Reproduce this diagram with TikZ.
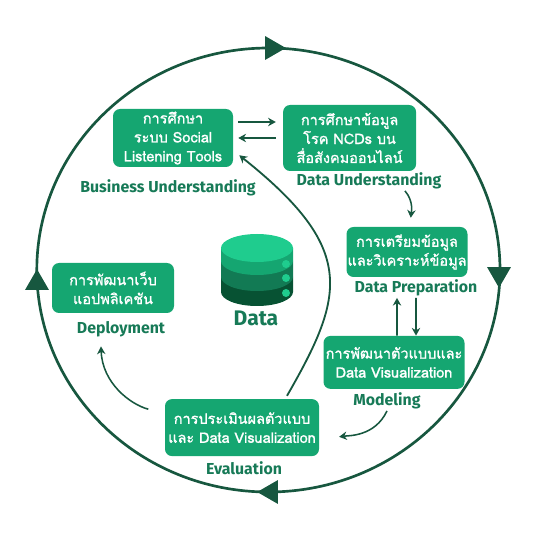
\documentclass[tikz,border=0pt]{standalone}
\usepackage{fontspec}
\setmainfont[Script=Thai]{Loma}
\newfontfamily\stepfont[Script=Thai,FakeBold=1.3]{Loma}
\newfontfamily\labelfont{Fira Sans}
\usetikzlibrary{arrows.meta,shapes.geometric}
\definecolor{boxgreen}{HTML}{15A671}
\definecolor{inkgreen}{HTML}{17573F}
\definecolor{labelgreen}{HTML}{177A57}
\definecolor{dbtop}{HTML}{1FCC8E}
\definecolor{dbmid}{HTML}{127A54}
\definecolor{dbbot}{HTML}{075233}
\begin{document}
\begin{tikzpicture}[
  font=\stepfont\fontsize{10.3}{13.5}\selectfont,
  >={Stealth[length=5.5pt,width=6pt]},
  stepbox/.style={draw=none, rounded corners=5pt, fill=boxgreen, text=white, align=center, inner sep=0pt},
  phase/.style={text=labelgreen, align=center, inner sep=1pt, font=\labelfont\fontsize{11.3}{12}\selectfont\bfseries},
  arr/.style={->, draw=inkgreen, line width=1.1pt},
  ringhead/.style={regular polygon, regular polygon sides=3, fill=inkgreen, inner sep=0pt, minimum size=0.69cm},
  ringline/.style={draw=inkgreen, line width=1.9pt}
]
\useasboundingbox (0,0) rectangle (13.5,13.5);
% ring
\node[ellipse, ringline, minimum width=11.58cm, minimum height=11.1cm, inner sep=0pt] (ring) at (6.71,6.75) {};
\node[ringhead, shape border rotate=-90] (headt) at (6.8,12.3) {};
\node[ringhead, shape border rotate=180] (headr) at (12.475,6.65) {};
\node[ringhead, shape border rotate=90] (headb) at (6.775,1.2) {};
\node[ringhead] (headl) at (0.925,6.425) {};
% steps
\node[stepbox, minimum width=3cm, minimum height=1.45cm] (study) at (4.325,10.05) {การศึกษา\\ระบบ Social\\Listening Tools};
\node[stepbox, minimum width=3.325cm, minimum height=1.65cm] (ncds) at (8.74,10.05) {การศึกษาข้อมูล\\โรค NCDs บน\\สื่อสังคมออนไลน์};
\node[stepbox, minimum width=3.025cm, minimum height=1.25cm] (prep) at (10.175,7.2) {การเตรียมข้อมูล\\และวิเคราะห์ข้อมูล};
\node[stepbox, minimum width=3.525cm, minimum height=1.325cm] (model) at (9.85,4.44) {การพัฒนาตัวแบบและ\\Data Visualization};
\node[stepbox, minimum width=3.85cm, minimum height=1.425cm] (eval) at (6.05,2.81) {การประเมินผลตัวแบบ\\และ Data Visualization};
\node[stepbox, minimum width=3.05cm, minimum height=1.25cm] (web) at (2.825,6.3) {การพัฒนาเว็บ\\แอปพลิเคชัน};
% phase labels
\node[phase] (lbiz) at (4.2,8.8) {Business Understanding};
\node[phase] (ldata) at (9.225,8.975) {Data Understanding};
\node[phase] (lprep) at (10.4,6.3) {Data Preparation};
\node[phase] (lmodel) at (9.675,3.475) {Modeling};
\node[phase] (leval) at (6.1,1.8) {Evaluation};
\node[phase] (lweb) at (3.025,5.275) {Deployment};
% database
\foreach \ytop/\ybot/\col in {6.575/6.2/dbbot,6.975/6.575/dbmid,7.3/6.975/boxgreen}
  \fill[\col] (5.525,\ytop) -- (5.525,\ybot) arc[start angle=180, end angle=360, x radius=0.9cm, y radius=0.35cm] -- (7.325,\ytop) -- cycle;
\fill[dbtop] (6.425,7.3) ellipse[x radius=0.9cm, y radius=0.35cm];
\foreach \y in {6.9,6.55,6.175}
  \fill[dbtop] (7.15,\y) circle (0.1);
\node[phase, font=\labelfont\fontsize{15}{16}\selectfont\bfseries] (ldb) at (6.4,5.55) {Data};
% connectors
\draw[arr, shorten <=0.125cm, shorten >=0.175cm] ([yshift=0.4cm]study.east) -- ([yshift=0.4cm]ncds.west);
\draw[arr, shorten <=0.175cm, shorten >=0.125cm] (ncds.west) -- (study.east);
\draw[arr, shorten >=0.225cm] ([xshift=0.9cm]ldata.south) to[out=-50,in=85] ([xshift=0.075cm]prep.north);
\draw[arr] ([xshift=0.075cm]model.north) -- ([xshift=-0.475cm]lprep.south);
\draw[arr] (lprep.south) -- ([xshift=0.55cm]model.north);
\draw[arr, shorten >=0.5cm] (lmodel.south) to[out=-115,in=8] ([yshift=-0.3cm]eval.east);
\draw[arr, shorten <=0.425cm] ([yshift=0.35cm]eval.west) to[out=165,in=-88] ([xshift=-0.5cm,yshift=-0.2cm]lweb.south);
\draw[arr, line width=1.3pt] ([xshift=1.125cm,yshift=0.075cm]eval.north) .. controls (8.625,6.125) and (8.925,7.275) .. ([shift={(0.15,0.3)}]study.south east);
\end{tikzpicture}
\end{document}
